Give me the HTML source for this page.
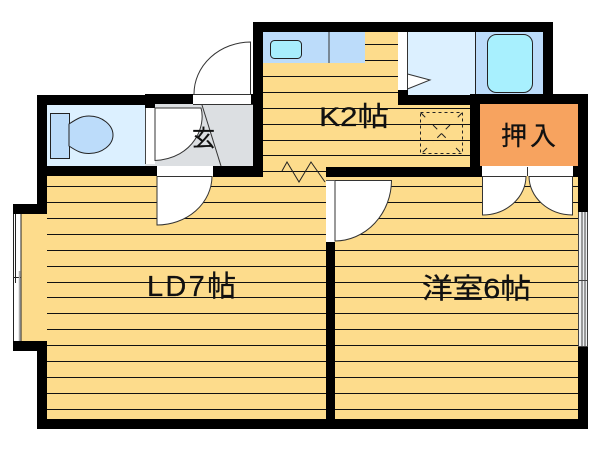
<!DOCTYPE html>
<html><head><meta charset="utf-8"><style>
html,body{margin:0;padding:0;background:#fff;width:600px;height:451px;overflow:hidden}
svg{display:block}
text{font-family:"Liberation Sans","Noto Sans CJK JP",sans-serif;fill:#111;stroke:#111;stroke-width:.25}
</style></head><body>
<svg width="600" height="451" viewBox="0 0 600 451" xmlns="http://www.w3.org/2000/svg">
<rect width="600" height="451" fill="#fff"/>
<!-- floors -->
<g fill="#fddc8c">
<rect x="47" y="170" width="535" height="255"/>
<rect x="21" y="210" width="30" height="135"/>
<rect x="260" y="28" width="140" height="145"/>
<rect x="400" y="100" width="75" height="70"/>
</g>
<!-- floor lines -->
<g stroke="#111" stroke-width="1" fill="none" shape-rendering="crispEdges">
<path d="M47 186.500H578M47 202.500H578M47 218.500H578M47 234.500H578M47 250.500H578M47 266.500H578M47 282.500H578M47 297.500H578M47 313.500H578M47 329.500H578M47 345.500H578M47 361.500H578M47 377.500H578M47 393.500H578M47 409.500H578"/>
<path d="M263 44.500H398M263 60.500H398M263 76.500H398M263 92.500H398M263 108.500H470M263 124.500H470M263 140.500H470M263 155.500H470M263 171.500H326"/>
</g>
<!-- rooms -->
<rect x="47" y="105" width="98" height="61" fill="#dcf0ff"/>
<rect x="145" y="164" width="10" height="2" fill="#dcdfe2"/>
<rect x="155" y="104" width="98" height="62" fill="#dcdfe2"/>
<rect x="408" y="32" width="68" height="63" fill="#dcf0ff"/>
<rect x="476" y="32" width="67" height="63" fill="#bcdcfa"/>
<rect x="480" y="104" width="98" height="62" fill="#f7a35f"/>
<!-- fixtures -->
<rect x="263" y="32" width="102" height="31" fill="#bcdcfa"/>
<path d="M329 32V63" stroke="#333" stroke-width="1"/>
<rect x="270.500" y="40.500" width="31" height="18" rx="4" fill="#a8eefc" stroke="#222" stroke-width="1"/>
<rect x="487.500" y="34.500" width="45" height="58" rx="9" fill="#a8f0fe" stroke="#222" stroke-width="1"/>
<path d="M475.500 32V94" stroke="#222" stroke-width="1"/>
<rect x="50.500" y="113.500" width="19" height="45" fill="#bcdcfa" stroke="#222" stroke-width="1"/>
<path d="M69 124C78 118 82 116 89 116C102 116 113 125 113 135C113 145 102 153.500 89 153.500C82 153.500 78 152 69 146Z" fill="#bcdcfa" stroke="#222" stroke-width="1"/>
<!-- walls -->
<g fill="#000">
<rect x="37" y="95" width="10" height="109"/>
<rect x="37" y="351" width="10" height="78"/>
<rect x="37" y="95" width="108" height="10"/>
<rect x="145" y="94" width="10" height="14"/>
<rect x="155" y="94" width="38" height="10"/>
<rect x="253" y="22" width="10" height="155"/>
<rect x="253" y="22" width="300" height="10"/>
<rect x="543" y="22" width="10" height="80"/>
<rect x="251" y="94" width="12" height="10"/>
<rect x="398" y="22" width="10" height="83"/>
<rect x="398" y="91" width="10" height="14"/>
<rect x="408" y="95" width="72" height="10"/>
<rect x="470" y="94" width="118" height="10"/>
<rect x="470" y="94" width="10" height="83"/>
<rect x="578" y="94" width="10" height="118"/>
<rect x="578" y="347" width="10" height="82"/>
<rect x="37" y="419" width="551" height="10"/>
<rect x="47" y="166" width="110" height="10"/>
<rect x="213" y="166" width="50" height="11"/>
<rect x="326" y="167" width="154" height="10"/>
<rect x="326" y="242" width="9" height="177"/>
<rect x="13" y="204" width="34" height="10"/>
<rect x="13" y="341" width="34" height="10"/>
<rect x="480" y="166" width="2" height="11"/>
<rect x="573" y="166" width="5" height="11"/>
</g>
<!-- K door -->
<rect x="193" y="95" width="58" height="9" fill="#fff"/>
<path d="M194 94A57 52 0 0 1 250.500 42V94" fill="#fff" stroke="#333" stroke-width="1"/>
<path d="M193 94.500H251M193 104.500H253" stroke="#333" stroke-width="1"/>
<!-- toilet door -->
<rect x="145" y="108" width="10" height="56" fill="#fff"/>
<path d="M145.500 108V164" stroke="#444" stroke-width="1"/>
<path d="M155 108H201C206 125 195 158 155 160.500Z" fill="#fff" stroke="#333" stroke-width="1"/>
<path d="M202 105L221 166" stroke="#333" stroke-width="1"/>
<!-- LD door -->
<rect x="157" y="167" width="56" height="9" fill="#fff"/>
<path d="M157 176.500H212A55 49 0 0 1 157 225Z" fill="#fff" stroke="#333" stroke-width="1"/>
<!-- partition door -->
<rect x="326" y="180" width="9" height="62" fill="#fff"/>
<path d="M335 180.500H391.500A57 61 0 0 1 335 241Z" fill="#fff" stroke="#333" stroke-width="1"/>
<path d="M326 180.500H335" stroke="#555" stroke-width="1"/>
<!-- bath door -->
<rect x="398" y="32" width="10" height="58" fill="#fff"/>
<path d="M407.500 74L430 80L407.500 89Z" fill="#fff" stroke="#333" stroke-width="1"/>
<path d="M407.500 32V90" stroke="#333" stroke-width="1"/>
<!-- closet doors -->
<rect x="482" y="167" width="91" height="9" fill="#fff"/>
<path d="M527.500 167V176" stroke="#333" stroke-width="1"/>
<path d="M482.500 176.500H526A44 39 0 0 1 482.500 215Z" fill="#fff" stroke="#333" stroke-width="1"/>
<path d="M572.500 176.500H529A44 39 0 0 0 572.500 215Z" fill="#fff" stroke="#333" stroke-width="1"/>
<!-- windows -->
<rect x="13" y="214" width="8" height="127" fill="#fff"/>
<path d="M13.500 214V341M21 214V341M13 277.500H21M15.500 214V283" stroke="#222" stroke-width="1" fill="none"/>
<path d="M19.500 271V341" stroke="#aaa" stroke-width="1.500" fill="none"/>
<rect x="578" y="212" width="10" height="135" fill="#eef0f2"/>
<path d="M578.500 212V347M582 212V347M585 212V347M587.500 212V347M578 280.500H588M578 346.500H588" stroke="#444" stroke-width="1" fill="none"/>
<!-- zigzag -->
<path d="M282 171L287 162L299 182L311 162L325 182" stroke="#222" stroke-width="1" fill="none"/>
<!-- hatch -->
<g stroke="#222" stroke-width="1" fill="none">
<rect x="420.500" y="112.500" width="42" height="41" stroke-dasharray="3 3"/>
<path d="M421 113L427 119M433 125L450 142M456 148L462 154M462 113L456 119M450 125L433 142M427 148L421 154" stroke-dasharray="6 6"/>
</g>
<!-- labels -->
<text x="319" y="126" font-size="27" textLength="70" lengthAdjust="spacingAndGlyphs">K2帖</text>
<text x="147" y="296" font-size="29" letter-spacing="2.300">LD7帖</text>
<text x="422" y="298" font-size="28" textLength="109" lengthAdjust="spacingAndGlyphs">洋室6帖</text>
<text x="501" y="145" font-size="26" textLength="55" lengthAdjust="spacing">押入</text>
<text x="192" y="146" font-size="23">玄</text>
</svg>
</body></html>
